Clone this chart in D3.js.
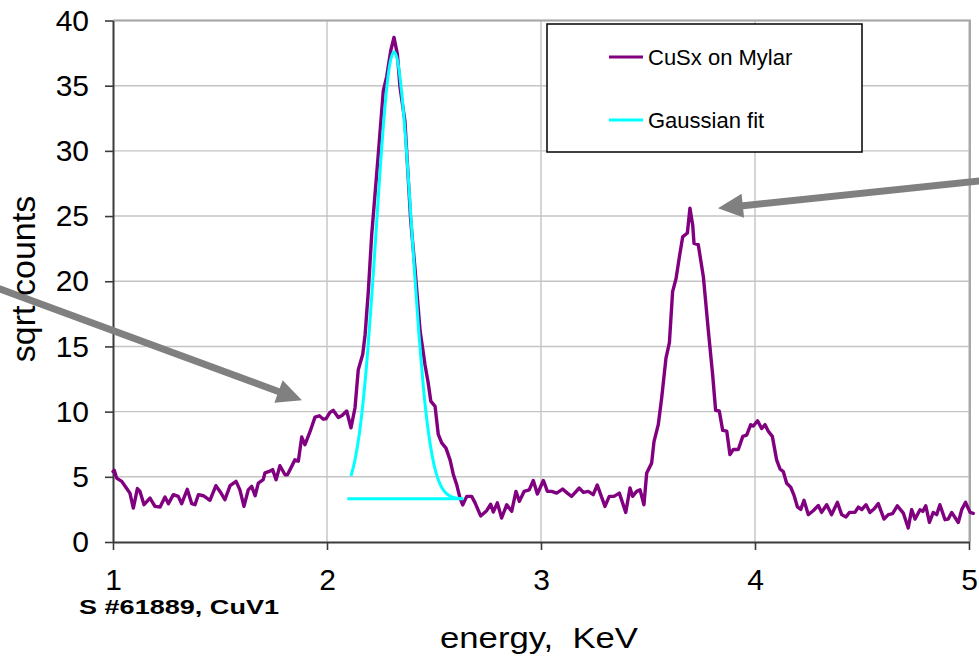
<!DOCTYPE html>
<html>
<head>
<meta charset="utf-8">
<script src="https://cdn.jsdelivr.net/npm/d3@7"></script>
<style>
  body { margin: 0; background: #fff; }
  svg { display: block; font-family: "Liberation Sans", Arial, sans-serif; }
</style>
</head>
<body>
<svg id="chart" width="979" height="658"></svg>
<script>
// Spectrum: energy (keV) and square root of counts
const energyKeV = [
  1.000, 1.006, 1.017, 1.041, 1.064, 1.079, 1.095, 1.114, 1.126, 1.145,
  1.173, 1.196, 1.220, 1.243, 1.259, 1.282, 1.305, 1.321, 1.347, 1.368,
  1.383, 1.399, 1.422, 1.453, 1.481, 1.500, 1.523, 1.547, 1.575, 1.593,
  1.612, 1.632, 1.648, 1.664, 1.679, 1.702, 1.710, 1.734, 1.746, 1.762,
  1.780, 1.804, 1.815, 1.835, 1.850, 1.866, 1.882, 1.897, 1.921, 1.944,
  1.964, 1.983, 1.995, 2.014, 2.029, 2.053, 2.070, 2.092, 2.112, 2.131,
  2.146, 2.167, 2.178, 2.193, 2.209, 2.240, 2.263, 2.279, 2.298, 2.313,
  2.329, 2.341, 2.364, 2.391, 2.411, 2.435, 2.458, 2.473, 2.485, 2.505,
  2.520, 2.536, 2.556, 2.575, 2.590, 2.606, 2.621, 2.634, 2.653, 2.676,
  2.692, 2.718, 2.746, 2.765, 2.777, 2.796, 2.816, 2.840, 2.863, 2.883,
  2.899, 2.921, 2.945, 2.964, 2.983, 3.011, 3.030, 3.050, 3.073, 3.101,
  3.123, 3.143, 3.179, 3.198, 3.221, 3.244, 3.263, 3.279, 3.299, 3.319,
  3.341, 3.366, 3.396, 3.416, 3.428, 3.447, 3.463, 3.481, 3.494, 3.517,
  3.528, 3.548, 3.564, 3.584, 3.600, 3.615, 3.631, 3.646, 3.662, 3.684,
  3.696, 3.709, 3.715, 3.735, 3.759, 3.782, 3.802, 3.816, 3.833, 3.849,
  3.868, 3.883, 3.899, 3.922, 3.943, 3.961, 3.980, 3.992, 4.012, 4.031,
  4.047, 4.062, 4.081, 4.101, 4.117, 4.132, 4.148, 4.167, 4.182, 4.198,
  4.214, 4.229, 4.249, 4.272, 4.296, 4.311, 4.335, 4.358, 4.385, 4.405,
  4.425, 4.441, 4.467, 4.483, 4.499, 4.519, 4.537, 4.556, 4.576, 4.603,
  4.623, 4.643, 4.665, 4.693, 4.716, 4.732, 4.748, 4.771, 4.784, 4.798,
  4.815, 4.833, 4.849, 4.864, 4.888, 4.903, 4.919, 4.950, 4.966, 4.984,
  5.005, 5.020
];
const sqrtCounts = [
  5.40, 5.50, 4.90, 4.65, 4.10, 3.75, 2.60, 4.10, 3.88, 2.86,
  3.37, 2.73, 2.68, 3.45, 2.94, 3.63, 3.50, 2.94, 4.04, 2.94,
  2.86, 3.63, 3.55, 3.20, 4.32, 3.88, 3.24, 4.32, 4.65, 4.00,
  2.73, 4.00, 4.27, 3.55, 4.52, 4.78, 5.30, 5.44, 5.55, 4.78,
  5.85, 5.16, 5.16, 5.80, 6.30, 6.20, 8.05, 7.46, 8.48, 9.58,
  9.68, 9.42, 9.45, 9.94, 10.10, 9.55, 9.70, 10.05, 8.76, 10.30,
  13.20, 14.40, 15.90, 19.20, 23.60, 29.80, 34.60, 35.70, 37.70, 38.70,
  37.40, 34.90, 32.30, 24.70, 21.00, 16.20, 13.60, 12.20, 10.80, 10.40,
  8.25, 7.60, 7.20, 6.30, 5.20, 4.40, 3.40, 2.84, 3.50, 3.50,
  3.00, 2.00, 2.40, 2.90, 2.30, 3.00, 1.84, 2.86, 2.35, 3.88,
  3.12, 3.88, 4.00, 4.72, 3.68, 4.72, 3.88, 3.88, 3.75, 4.06,
  3.75, 3.50, 4.14, 3.80, 3.88, 3.63, 4.37, 3.63, 2.73, 3.50,
  3.50, 3.75, 2.27, 4.14, 3.50, 3.88, 4.00, 2.86, 5.30, 6.05,
  7.70, 9.00, 11.06, 14.10, 15.30, 19.20, 20.20, 21.80, 23.40, 23.70,
  25.60, 24.30, 22.90, 22.80, 20.30, 16.20, 12.85, 10.10, 10.05, 8.56,
  8.50, 6.70, 7.10, 7.10, 8.10, 8.20, 9.00, 8.90, 9.30, 8.70,
  9.00, 8.50, 8.10, 6.30, 5.60, 5.40, 4.50, 4.20, 3.60, 2.70,
  2.50, 3.20, 2.10, 2.40, 2.80, 2.27, 2.86, 2.10, 3.04, 2.10,
  1.92, 2.27, 2.27, 2.68, 2.48, 2.86, 2.27, 2.53, 2.94, 1.76,
  2.10, 2.17, 2.78, 2.22, 1.07, 2.48, 1.76, 2.48, 2.35, 2.78,
  1.50, 2.27, 2.10, 2.86, 1.71, 1.76, 2.27, 1.50, 2.48, 3.04,
  2.27, 2.20
];

// Gaussian fit of the main peak
const fitEnergyKeV = [
  2.112, 2.130, 2.150, 2.170, 2.190, 2.210, 2.230, 2.250, 2.270, 2.290,
  2.313, 2.330, 2.350, 2.370, 2.390, 2.410, 2.430, 2.450, 2.470, 2.490,
  2.510, 2.530, 2.550, 2.570, 2.590, 2.610, 2.630
];
const fitSqrtCounts = [
  5.06, 6.23, 8.17, 10.94, 14.60, 19.04, 23.98, 28.93, 33.25, 36.29,
  37.60, 36.88, 34.31, 30.32, 25.49, 20.49, 15.85, 11.94, 8.91, 6.74,
  5.28, 4.38, 3.85, 3.57, 3.42, 3.35, 3.32
];
// Flat background level of the fit
const fitBaselineKeV = [2.095, 2.637];
const fitBaselineLevel = 3.32;

const xTickValues = [1, 2, 3, 4, 5];
const yTickValues = [0, 5, 10, 15, 20, 25, 30, 35, 40];
const seriesNames = ["CuSx on Mylar", "Gaussian fit"];
const seriesColors = ["#800080", "#00ffff"];
const xTitle = "energy,  KeV";
const yTitle = "sqrt counts";
const sampleLabel = "S #61889, CuV1";

// Pointer arrows in data units: [tailE, tailV, tipE, tipV]
const arrowLines = [
  [0.449, 19.54, 1.883, 10.88],
  [5.075, 27.74, 3.827, 25.59]
];

const svg = d3.select("#chart");
const x = d3.scaleLinear().domain([1, 5]).range([113, 969]);
const y = d3.scaleLinear().domain([0, 40]).range([542, 20.5]);

// Gridlines
const grid = svg.append("g").attr("stroke", "#c4c4c4").attr("stroke-width", 1.4);
grid.selectAll("line.h").data(yTickValues.filter(v => v > 0)).join("line")
  .attr("x1", x(1)).attr("x2", x(5) + 1)
  .attr("y1", d => y(d)).attr("y2", d => y(d));
grid.selectAll("line.v").data(xTickValues.filter(v => v > 1)).join("line")
  .attr("x1", d => x(d)).attr("x2", d => x(d))
  .attr("y1", y(40)).attr("y2", y(0));

// Plot border top / right
svg.append("path")
  .attr("d", `M${x(1)},${y(40)}H${x(5) + 1}V${y(0)}`)
  .attr("fill", "none").attr("stroke", "#a8a8a8").attr("stroke-width", 2);

// Axes
const yAxis = svg.append("g").attr("transform", `translate(${x(1)},0)`)
  .call(d3.axisLeft(y).tickValues(yTickValues).tickSize(8).tickSizeOuter(0).tickPadding(16));
const xAxis = svg.append("g").attr("transform", `translate(0,${y(0)})`)
  .call(d3.axisBottom(x).tickValues(xTickValues).tickSize(8).tickSizeOuter(0).tickPadding(19)
    .tickFormat(d3.format("d")));
[yAxis, xAxis].forEach(a => {
  a.select(".domain").attr("stroke", "#3a3a3a").attr("stroke-width", 2);
  a.selectAll(".tick line").attr("stroke", "#3a3a3a").attr("stroke-width", 1.6);
  a.selectAll(".tick text").attr("fill", "#000").attr("font-size", 30)
    .attr("font-family", "'Liberation Sans', Arial, sans-serif");
});

// Spectrum line
const spectrum = energyKeV.map((e, i) => [e, sqrtCounts[i]]);
const line = d3.line().x(d => x(d[0])).y(d => y(d[1]));
svg.append("path").datum(spectrum)
  .attr("d", line).attr("fill", "none")
  .attr("stroke", seriesColors[0]).attr("stroke-width", 3.4)
  .attr("stroke-linejoin", "round").attr("stroke-linecap", "round");

// Gaussian fit and its baseline
const fit = fitEnergyKeV.map((e, i) => [e, fitSqrtCounts[i]]);
svg.append("path").datum(fit)
  .attr("d", d3.line().x(d => x(d[0])).y(d => y(d[1])).curve(d3.curveMonotoneX))
  .attr("fill", "none").attr("stroke", seriesColors[1]).attr("stroke-width", 3);
svg.append("path").datum(fitBaselineKeV.map(e => [e, fitBaselineLevel]))
  .attr("d", line).attr("fill", "none")
  .attr("stroke", seriesColors[1]).attr("stroke-width", 3);

// Arrows
const arrowG = svg.append("g");
arrowLines.forEach(([e0, v0, e1, v1]) => {
  const x0 = x(e0), y0 = y(v0), x1 = x(e1), y1 = y(v1);
  const len = Math.hypot(x1 - x0, y1 - y0);
  const ux = (x1 - x0) / len, uy = (y1 - y0) / len;
  const headLen = 25, headHalf = 12;
  const bx = x1 - ux * headLen, by = y1 - uy * headLen;
  arrowG.append("line")
    .attr("x1", x0).attr("y1", y0).attr("x2", bx + ux * 2).attr("y2", by + uy * 2)
    .attr("stroke", "#808080").attr("stroke-width", 7);
  arrowG.append("path")
    .attr("d", `M${x1},${y1}L${bx - uy * headHalf},${by + ux * headHalf}L${bx + uy * headHalf},${by - ux * headHalf}Z`)
    .attr("fill", "#808080");
});

// Legend
const legend = svg.append("g");
legend.append("rect")
  .attr("x", 547).attr("y", 24).attr("width", 315).attr("height", 128)
  .attr("fill", "#fff").attr("stroke", "#000").attr("stroke-width", 1.5);
seriesNames.forEach((name, i) => {
  const ly = 57 + i * 63;
  legend.append("line")
    .attr("x1", 609).attr("x2", 643).attr("y1", ly).attr("y2", ly)
    .attr("stroke", seriesColors[i]).attr("stroke-width", 3);
  legend.append("text")
    .attr("x", 648).attr("y", ly + 8)
    .attr("font-size", 22).attr("fill", "#000")
    .text(name);
});

// Titles
svg.append("text")
  .attr("transform", `translate(35,279) rotate(-90)`)
  .attr("text-anchor", "middle").attr("font-size", 34).attr("fill", "#000")
  .text(yTitle);
svg.append("text")
  .attr("x", 440).attr("y", 648)
  .attr("font-size", 29).attr("fill", "#000")
  .style("white-space", "pre")
  .attr("textLength", 198).attr("lengthAdjust", "spacingAndGlyphs")
  .text(xTitle);
svg.append("text")
  .attr("x", 79).attr("y", 614)
  .attr("font-size", 21).attr("font-weight", "bold").attr("fill", "#000")
  .attr("textLength", 200).attr("lengthAdjust", "spacingAndGlyphs")
  .text(sampleLabel);
</script>
</body>
</html>
